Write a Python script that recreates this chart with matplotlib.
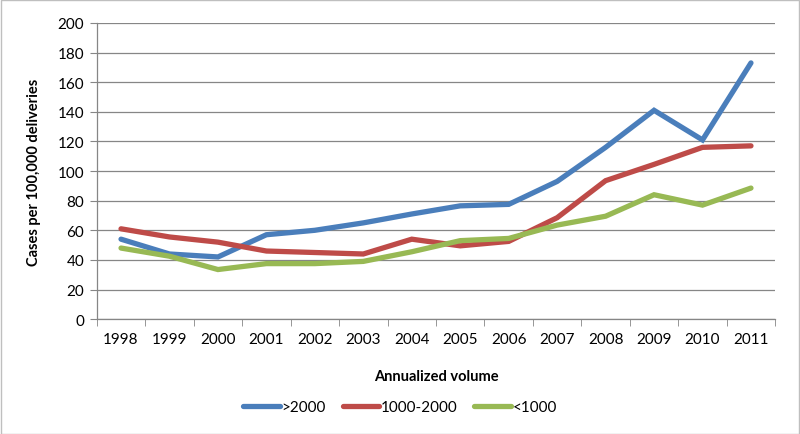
import matplotlib
matplotlib.use("Agg")
import matplotlib.pyplot as plt
from matplotlib.lines import Line2D
from matplotlib.patches import Rectangle

years = ["1998", "1999", "2000", "2001", "2002", "2003", "2004",
         "2005", "2006", "2007", "2008", "2009", "2010", "2011"]
over_2000 = [54, 44, 42, 57, 60, 65, 71, 76.5, 77.5, 93, 116, 141, 121, 173]
mid_1000_2000 = [61, 55.5, 52, 46, 45, 44, 54, 49.5, 52.5, 68.5, 93.5, 104.5, 116, 117]
under_1000 = [48, 42.5, 33.5, 37.5, 37.5, 39, 45.5, 53, 54.5, 63.5, 69.5, 84, 77, 88.5]
series_names = [">2000", "1000-2000", "<1000"]
colors = ["#4A7EBB", "#BE4B48", "#98B954"]

plt.rcParams['font.family'] = ['Lato', 'DejaVu Sans']

fig = plt.figure(figsize=(8, 4.35), dpi=100)
ax = fig.add_axes([0.121, 0.264, 0.848, 0.681])

x = list(range(len(years)))
lw = 3.8
for vals, name, c in zip([over_2000, mid_1000_2000, under_1000], series_names, colors):
    ax.plot(x, vals, color=c, lw=lw, label=name, solid_joinstyle='miter', solid_capstyle='round')

ax.set_xlim(-0.5, len(years) - 0.5)
ax.set_ylim(0, 200)
ax.set_yticks(range(0, 201, 20))
ax.set_xticks(x)
ax.set_xticklabels(years)
ax.set_xticks([i - 0.5 for i in range(len(years) + 1)], minor=True)
ax.tick_params(axis='x', which='major', length=0, pad=9, labelsize=11)
ax.tick_params(axis='x', which='minor', length=5, color='#868686', direction='out')
ax.tick_params(axis='y', length=5, color='#868686', direction='out', labelsize=11, pad=4)
ax.grid(axis='y', color='#868686', lw=0.9)
ax.set_axisbelow(True)
for s in ['top', 'right']:
    ax.spines[s].set_visible(False)
for s in ['left', 'bottom']:
    ax.spines[s].set_color('#868686')
    ax.spines[s].set_linewidth(0.9)

ax.set_ylabel("Cases per 100,000 deliveries", fontsize=10.5, fontweight='bold', labelpad=12)
ax.set_xlabel("Annualized volume", fontsize=10.5, fontweight='bold', labelpad=17)

handles = [Line2D([0], [0], color=c, lw=lw, solid_capstyle='round') for c in colors]
fig.legend(handles, series_names, loc='center', bbox_to_anchor=(0.5, 0.062), ncol=3,
           frameon=False, fontsize=11, handlelength=2.4, handletextpad=0.1, columnspacing=1.1)

fig.patches.append(Rectangle((0.001, 0.001), 0.998, 0.997, transform=fig.transFigure,
                             fill=False, edgecolor='#BFBFBF', lw=1))

fig.savefig("out.png", dpi=100)
